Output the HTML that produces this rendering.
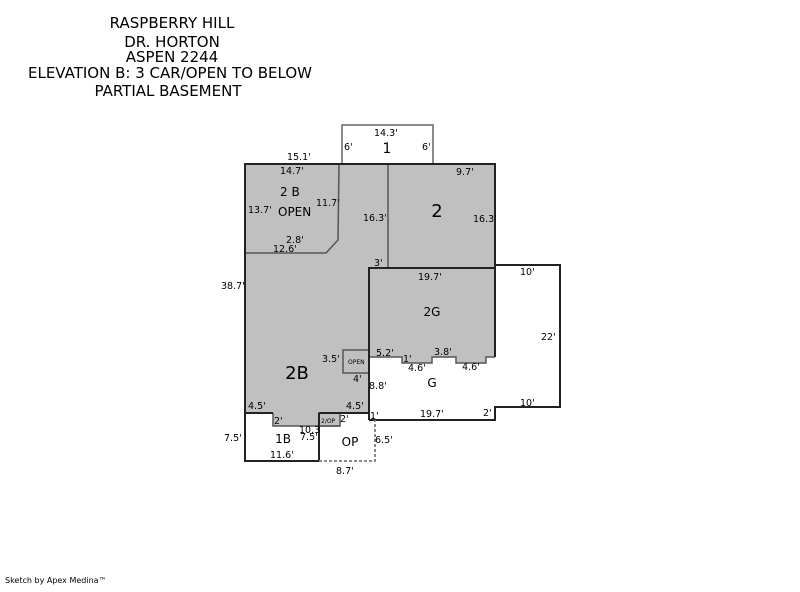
<!DOCTYPE html>
<html><head><style>
body{margin:0;background:#fff;width:800px;height:587px;overflow:hidden}
svg text{font-family:"DejaVu Sans","Liberation Sans",sans-serif;fill:#000}
</style></head><body>
<svg width="800" height="587" xmlns="http://www.w3.org/2000/svg">
<g font-size="15" text-anchor="middle">
<text x="172" y="28">RASPBERRY HILL</text>
<text x="172" y="47">DR. HORTON</text>
<text x="172" y="62">ASPEN 2244</text>
<text x="170" y="78">ELEVATION B: 3 CAR/OPEN TO BELOW</text>
<text x="168" y="96">PARTIAL BASEMENT</text>
</g>
<polygon points="245,164 495,164 495,268 369,268 369,413 340,413 340,426 273,426 273,413 245,413" fill="#c0c0c0"/>
<polygon points="369,268 495,268 495,357 486,357 486,363 456,363 456,357 432,357 432,363 402,363 402,357 369,357" fill="#c0c0c0"/>
<polyline points="342,164 342,125 433,125 433,164" fill="none" stroke="#666" stroke-width="1.5"/>
<g fill="none" stroke="#555" stroke-width="1.5">
<polyline points="339,164 338,240 326,253 245,253"/>
<line x1="388" y1="164" x2="388" y2="268"/>
<polyline points="369,357 402,357 402,363 432,363 432,357 456,357 456,363 486,363 486,357 495,357"/>
<rect x="343" y="350" width="26" height="23"/>
<polyline points="273,413 273,426 340,426"/>
<rect x="319" y="413" width="21" height="13"/>
</g>
<g fill="none" stroke="#222" stroke-width="2">
<polyline points="245,413 245,164 495,164 495,268"/>
<polyline points="369,420 369,268 495,268 495,265 560,265 560,407 495,407 495,420 369,420"/>
<line x1="495" y1="268" x2="495" y2="357"/>
<line x1="245" y1="413" x2="273" y2="413"/>
<line x1="319" y1="413" x2="369" y2="413"/>
<polyline points="245,413 245,461 319,461 319,413"/>
</g>
<polyline points="319,461 375,461 375,420" fill="none" stroke="#888" stroke-width="2" stroke-dasharray="3,2"/>
<g font-size="9.5">
<text x="374" y="136">14.3'</text>
<text x="344" y="150">6'</text>
<text x="422" y="150">6'</text>
<text x="287" y="160">15.1'</text>
<text x="280" y="174">14.7'</text>
<text x="456" y="175">9.7'</text>
<text x="248" y="213">13.7'</text>
<text x="316" y="206">11.7'</text>
<text x="363" y="221">16.3'</text>
<text x="473" y="222">16.3'</text>
<text x="278" y="216" font-size="12">OPEN</text>
<text x="280" y="196" font-size="12">2 B</text>
<text x="286" y="243">2.8'</text>
<text x="273" y="252">12.6'</text>
<text x="374" y="266">3'</text>
<text x="418" y="280">19.7'</text>
<text x="520" y="275">10'</text>
<text x="221" y="289">38.7'</text>
<text x="541" y="340">22'</text>
<text x="322" y="362">3.5'</text>
<text x="348" y="364" font-size="6" fill="#666">OPEN</text>
<text x="376" y="356">5.2'</text>
<text x="403" y="362">1'</text>
<text x="434" y="355">3.8'</text>
<text x="408" y="371">4.6'</text>
<text x="462" y="370">4.6'</text>
<text x="353" y="382">4'</text>
<text x="369" y="389">8.8'</text>
<text x="248" y="409">4.5'</text>
<text x="346" y="409">4.5'</text>
<text x="520" y="406">10'</text>
<text x="274" y="424">2'</text>
<text x="340" y="422">2'</text>
<text x="370" y="419">1'</text>
<text x="420" y="417">19.7'</text>
<text x="483" y="416">2'</text>
<text x="321" y="423" font-size="6" fill="#666">2/OP</text>
<text x="299" y="433" fill="#888">10.3</text>
<text x="224" y="441">7.5'</text>
<text x="300" y="440">7.5'</text>
<text x="375" y="443">6.5'</text>
<text x="270" y="458">11.6'</text>
<text x="336" y="474">8.7'</text>
</g>
<g font-size="12" text-anchor="middle">
<text x="387" y="153" font-size="14">1</text>
<text x="437" y="217" font-size="18">2</text>
<text x="432" y="316">2G</text>
<text x="297" y="379" font-size="18">2B</text>
<text x="432" y="387">G</text>
<text x="283" y="443">1B</text>
<text x="350" y="446">OP</text>
</g>
<text x="5" y="583" font-size="8">Sketch by Apex Medina™</text>
</svg>
</body></html>
